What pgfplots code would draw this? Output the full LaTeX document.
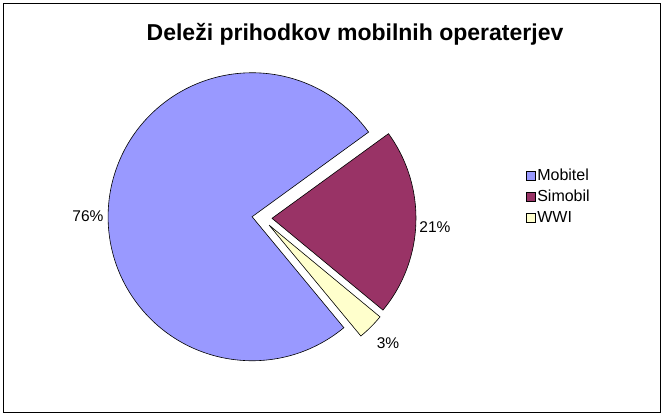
\documentclass[border=0pt]{standalone}
\usepackage{pgfplots}
\usepackage{pgfplotstable}
\pgfplotsset{compat=1.18}
\usepackage{fontspec}
\setmainfont{Liberation Sans}
\definecolor{mobcol}{HTML}{9999FF}
\definecolor{simcol}{HTML}{993366}
\definecolor{wwicol}{HTML}{FFFFCC}

\pgfplotstableread{
label value col
Mobitel 76 mobcol
Simobil 21 simcol
WWI 3 wwicol
}\piedata

\begin{document}
\begin{tikzpicture}
\begin{axis}[
  width=664bp, height=416bp, scale only axis,
  xmin=0, xmax=664, ymin=0, ymax=416,
  hide axis, clip=false,
  legend image code/.code={\draw[#1,line width=0.6bp] (0bp,-4.5bp) rectangle (9bp,4.5bp);},
  legend style={draw=none, fill=none, at={(axis cs:523,219)}, anchor=west,
    font=\fontsize{16bp}{18bp}\selectfont,
    nodes={inner sep=1.5bp, font=\fontsize{16bp}{18bp}\selectfont, text height=11.5bp, text depth=2.5bp},
    row sep=4bp, cells={anchor=west}},
]
\path (axis cs:0,0) rectangle (axis cs:664,416);
\draw[line width=1.6bp] (axis cs:3.5,3.5) rectangle (axis cs:660.5,412.5);

\def\pcx{262}\def\pcy{198}\def\pR{144}\def\pexp{10}
\xdef\pang{-50.4}
\pgfplotstablegetrowsof{\piedata}
\pgfmathtruncatemacro\nrows{\pgfplotsretval-1}
\pgfplotsforeachungrouped \i in {0,...,\nrows}{%
  \pgfplotstablegetelem{\i}{value}\of\piedata \let\sval\pgfplotsretval
  \pgfplotstablegetelem{\i}{col}\of\piedata \let\scol\pgfplotsretval
  \pgfmathsetmacro\sA{\pang}%
  \pgfmathsetmacro\sE{\pang-3.6*\sval}%
  \pgfmathsetmacro\sM{(\sA+\sE)/2}%
  \pgfmathsetmacro\ox{\pcx+\pexp*cos(\sM)}%
  \pgfmathsetmacro\oy{\pcy+\pexp*sin(\sM)}%
  \pgfmathsetmacro\qx{\ox+\pR*cos(\sA)}%
  \pgfmathsetmacro\qy{\oy+\pR*sin(\sA)}%
  \edef\cmd{\noexpand\filldraw[fill=\scol, draw=black, line width=0.6bp]
    (axis cs:\ox,\oy) -- (axis cs:\qx,\qy)
    arc[start angle=\sA, end angle=\sE, radius=\pR bp] -- cycle;}%
  \cmd
  \xdef\pang{\sE}%
}

\addlegendimage{fill=mobcol, draw=black}
\addlegendentry{Mobitel}
\addlegendimage{fill=simcol, draw=black}
\addlegendentry{Simobil}
\addlegendimage{fill=wwicol, draw=black}
\addlegendentry{WWI}

\node[font=\fontsize{15.5bp}{18bp}\selectfont] at (axis cs:88,200) {76\%};
\node[font=\fontsize{15.5bp}{18bp}\selectfont] at (axis cs:435,189) {21\%};
\node[font=\fontsize{15.5bp}{18bp}\selectfont] at (axis cs:388,73) {3\%};
\node[font=\bfseries\fontsize{23bp}{27bp}\selectfont] at (axis cs:355,382) {Deleži prihodkov mobilnih operaterjev};
\end{axis}
\end{tikzpicture}
\end{document}
